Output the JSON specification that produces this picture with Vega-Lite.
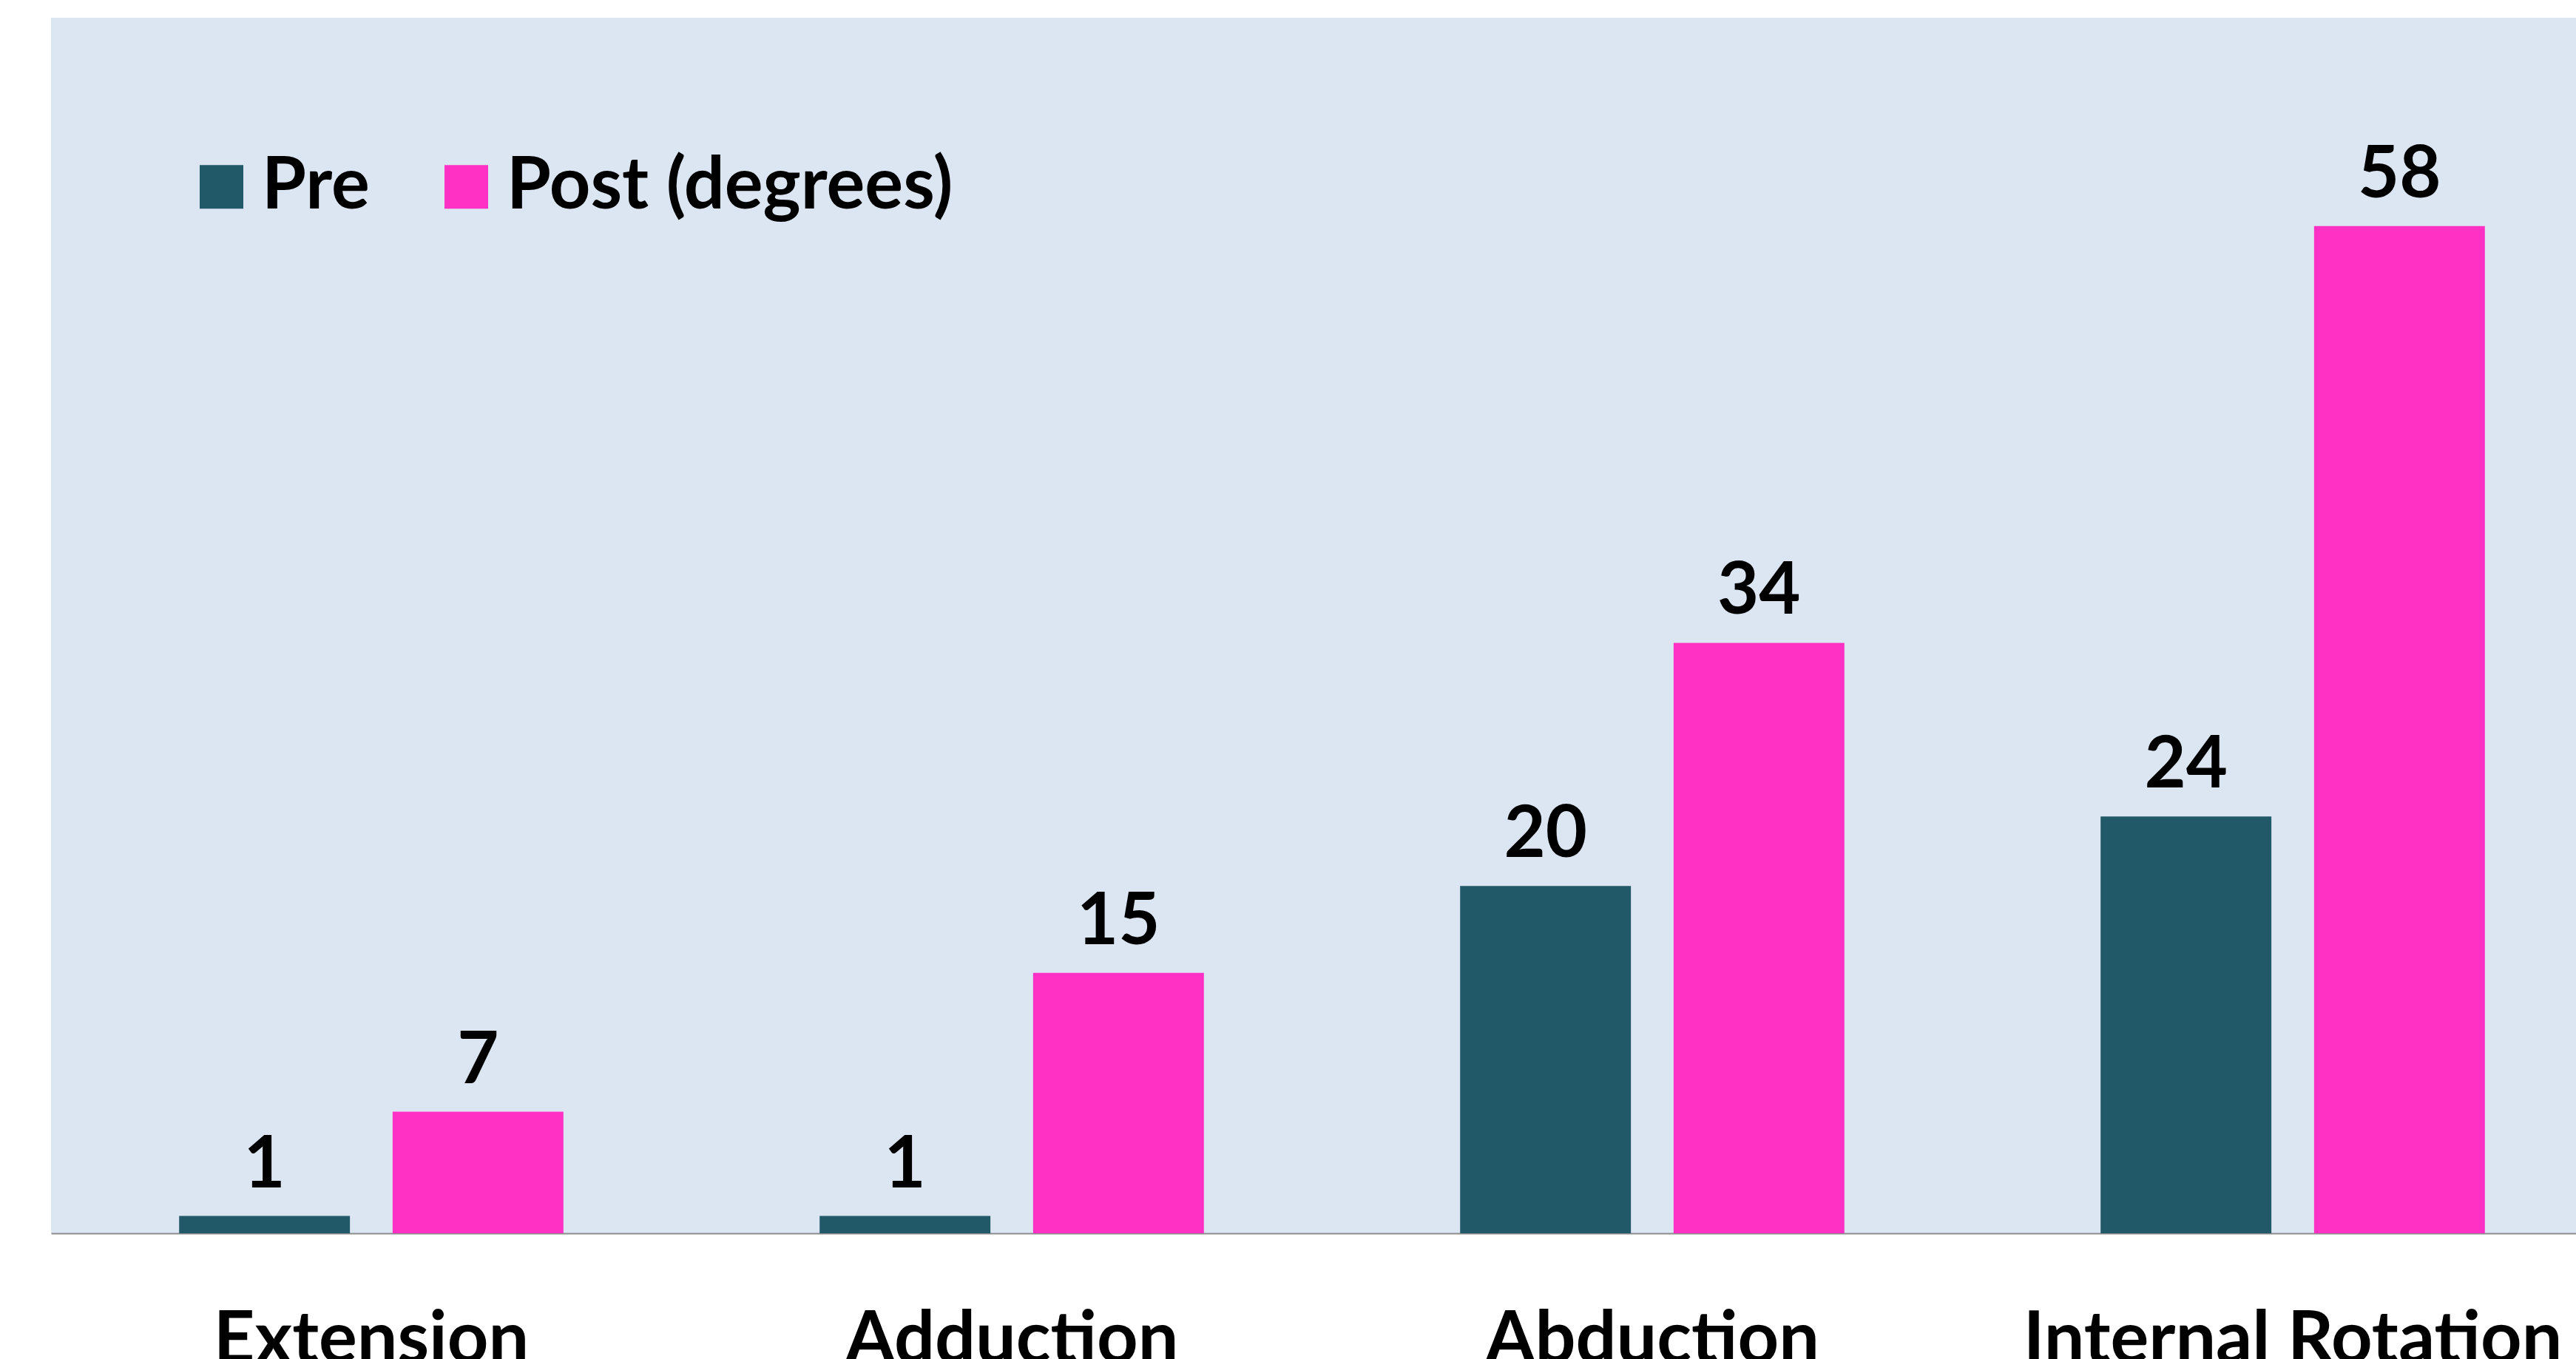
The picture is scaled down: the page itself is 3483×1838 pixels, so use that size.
{
  "$schema": "https://vega.github.io/schema/vega-lite/v6.json",
  "autosize": {"type": "none"},
  "width": 3414,
  "height": 1644,
  "padding": {"left": 69, "top": 24, "right": 0, "bottom": 170},
  "background": "#FFFFFF",
  "config": {
    "view": {"fill": "#DCE6F2", "stroke": null},
    "font": "Lato"
  },
  "data": {
    "values": [
      {"motion": "Extension", "series": "Pre", "value": 1},
      {"motion": "Extension", "series": "Post (degrees)", "value": 7},
      {"motion": "Adduction", "series": "Pre", "value": 1},
      {"motion": "Adduction", "series": "Post (degrees)", "value": 15},
      {"motion": "Abduction", "series": "Pre", "value": 20},
      {"motion": "Abduction", "series": "Post (degrees)", "value": 34},
      {"motion": "Internal Rotation", "series": "Pre", "value": 24},
      {"motion": "Internal Rotation", "series": "Post (degrees)", "value": 58}
    ]
  },
  "encoding": {
    "x": {
      "field": "motion",
      "type": "nominal",
      "sort": null,
      "scale": {"range": [0, 3464], "paddingInner": 0.4, "paddingOuter": 0.2},
      "axis": {
        "title": null,
        "labelAngle": 0,
        "ticks": false,
        "labelFont": "Lato",
        "labelFontSize": 97,
        "labelFontWeight": "bold",
        "labelColor": "#000000",
        "labelPadding": 174,
        "labelBaseline": "alphabetic",
        "labelLimit": 0,
        "labelOverlap": false,
        "labelBound": false,
        "domainColor": "#8C8C8C",
        "domainWidth": 2,
        "grid": false
      }
    },
    "xOffset": {
      "field": "series",
      "type": "nominal",
      "sort": ["Pre", "Post (degrees)"],
      "scale": {"paddingInner": 0.2, "paddingOuter": 0}
    },
    "y": {
      "field": "value",
      "type": "quantitative",
      "scale": {"domain": [0, 70], "nice": false},
      "axis": null
    }
  },
  "layer": [
    {
      "mark": {"type": "bar", "opacity": 1},
      "encoding": {
        "color": {
          "field": "series",
          "type": "nominal",
          "sort": ["Pre", "Post (degrees)"],
          "scale": {"domain": ["Pre", "Post (degrees)"], "range": ["#225968", "#FF30C4"]},
          "legend": {
            "orient": "none",
            "legendX": 182,
            "legendY": 180,
            "direction": "horizontal",
            "title": null,
            "symbolType": "square",
            "symbolSize": 3481,
            "symbolStrokeWidth": 0,
            "symbolOpacity": 1,
            "labelFont": "Lato",
            "labelFontSize": 97,
            "labelFontWeight": "bold",
            "labelColor": "#000000",
            "labelLimit": 0,
            "labelOffset": 6,
            "columnPadding": 82,
            "padding": 0
          }
        }
      }
    },
    {
      "mark": {
        "type": "text",
        "baseline": "alphabetic",
        "dy": -39,
        "font": "Lato",
        "fontSize": 97,
        "fontWeight": "bold",
        "color": "#000000"
      },
      "encoding": {
        "text": {"field": "value", "type": "quantitative"}
      }
    }
  ]
}
